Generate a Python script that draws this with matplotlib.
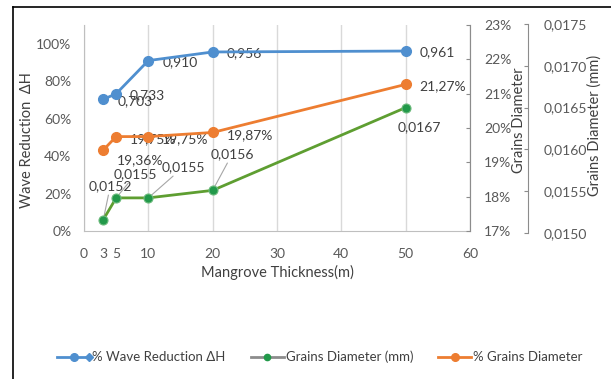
import matplotlib
matplotlib.use("Agg")
import matplotlib.pyplot as plt
from matplotlib.lines import Line2D
from matplotlib.legend_handler import HandlerLine2D
from matplotlib.ticker import FuncFormatter

plt.rcParams["font.family"] = ["Lato", "DejaVu Sans"]

# data
thickness = [3, 5, 10, 20, 50]
wave_reduction = [0.703, 0.733, 0.910, 0.956, 0.961]
grains_pct = [19.36, 19.75, 19.75, 19.87, 21.27]
grains_mm = [0.01516, 0.01542, 0.01542, 0.01551, 0.01650]
grains_mm_labels = ["0,0152", "0,0155", "0,0155", "0,0156", "0,0167"]

x_major = [0, 10, 20, 30, 40, 50, 60]
x_minor = [3, 5]

# label offsets (points) from each marker
orange_dy = [-7, -2, -2, -2, -1.5]
green_off = [(5, 24), (14, 17), (25, 22), (14, 26), (10, -14)]

BLUE, ORANGE = "#4f8fcf", "#ed7d31"
GREEN_LINE, GREEN_DOT = "#5e9e31", "#22994a"
TXT, TICK, GRID = "#404040", "#595959", "#d9d9d9"

W, H = 611, 379
fig = plt.figure(figsize=(W / 100, H / 100), dpi=100)
rect = [84 / W, (H - 231) / H, 386 / W, 206 / H]
ax = fig.add_axes(rect)
ax2 = ax.twinx()
ax3 = fig.add_axes([84 / W, (H - 233) / H, 386 / W, 209 / H])
ax3.patch.set_visible(False)

# primary axis: wave reduction
ax.set_xlim(0, 60)
ax.set_ylim(0, 1.1)
ax.set_yticks([0, 0.2, 0.4, 0.6, 0.8, 1.0])
ax.yaxis.set_major_formatter(FuncFormatter(lambda v, p: f"{v * 100:.0f}%"))
ax.set_xticks(x_major)
ax.set_xticks(x_minor, labels=[str(v) for v in x_minor], minor=True)
ax.tick_params(axis="x", which="both", length=0, pad=12, labelsize=10, colors=TICK)
ax.tick_params(axis="y", length=0, pad=9, labelsize=10, colors=TICK)
ax.xaxis.grid(True, which="major", color=GRID, lw=1)
ax.spines["top"].set_visible(False)
for s in ("left", "bottom", "right"):
    ax.spines[s].set_color("#bfbfbf")
ax.set_xlabel("Mangrove Thickness(m)", fontsize=10.5, color=TXT, labelpad=4)
ax.set_ylabel("Wave Reduction  ΔH", fontsize=10.5, color=TXT)
ax.yaxis.set_label_coords(-0.13, 0.44)

ax.plot(thickness, wave_reduction, color=BLUE, lw=2, marker="o", ms=7, zorder=5)
for x, y in zip(thickness, wave_reduction):
    ax.annotate(f"{y:.3f}".replace(".", ","), (x, y), xytext=(10, -1),
                textcoords="offset points", ha="left", va="center",
                fontsize=10, color=TXT)

# first secondary axis: % grains diameter
ax2.set_ylim(17, 23)
ax2.set_yticks(range(17, 24))
ax2.yaxis.set_major_formatter(FuncFormatter(lambda v, p: f"{v:.0f}%"))
ax2.tick_params(axis="y", direction="in", length=3, pad=10, labelsize=10,
                colors=TICK)
ax2.tick_params(axis="y", color="#8c8c8c")
for s in ("top", "left", "bottom"):
    ax2.spines[s].set_visible(False)
ax2.spines["right"].set_color("#8c8c8c")
ax2.set_ylabel("Grains Diameter", fontsize=10.5, color=TXT)
ax2.yaxis.set_label_coords(1.109, 0.54)
ax2.plot(thickness, grains_pct, color=ORANGE, lw=2, marker="o", ms=7, zorder=5)
for x, y, dy in zip(thickness, grains_pct, orange_dy):
    ax2.annotate(f"{y:.2f}%".replace(".", ","), (x, y), xytext=(10, dy),
                 textcoords="offset points", ha="left", va="center",
                 fontsize=10, color=TXT)

# second secondary axis: grains diameter (mm)
ax3.set_xlim(0, 60)
ax3.set_ylim(0.0150, 0.0175)
ax3.set_yticks([0.0150, 0.0155, 0.0160, 0.0165, 0.0170, 0.0175])
ax3.yaxis.set_major_formatter(FuncFormatter(lambda v, p: f"{v:.4f}".replace(".", ",")))
ax3.xaxis.set_visible(False)
ax3.yaxis.tick_right()
ax3.yaxis.set_label_position("right")
for s in ("top", "left", "bottom"):
    ax3.spines[s].set_visible(False)
ax3.spines["right"].set_position(("outward", 58 * 0.72))
ax3.spines["right"].set_color("#8c8c8c")
ax3.tick_params(axis="y", direction="in", length=3, pad=11, labelsize=10,
                colors=TICK)
ax3.tick_params(axis="y", color="#8c8c8c")
ax3.set_ylabel("Grains Diameter (mm)", fontsize=10.5, color=TXT)
ax3.yaxis.set_label_coords(1.305, 0.517)
ax3.plot(thickness, grains_mm, color=GREEN_LINE, lw=2, zorder=4)
ax3.plot(thickness, grains_mm, ls="none", marker="o", ms=6.5,
         color=GREEN_DOT, mec="#6dbb7d", mew=0.8, zorder=5)
for x, y, lab, (dx, dy) in zip(thickness, grains_mm, grains_mm_labels, green_off):
    arrow = None if dy < 0 else dict(arrowstyle="-", color="#a6a6a6", lw=0.8,
                                     shrinkA=0, shrinkB=3)
    ax3.annotate(lab, (x, y), xytext=(dx, dy), textcoords="offset points",
                 ha="center", va="center", fontsize=10, color=TXT,
                 arrowprops=arrow)


# legend: the Excel entry for wave reduction shows a dot and a diamond
class DotDiamond(HandlerLine2D):
    def create_artists(self, legend, orig, xd, yd, width, height, fontsize, trans):
        y = height / 2 - yd
        line = Line2D([-xd, width - xd], [y, y], color=BLUE, lw=2)
        dot = Line2D([0.5 * width - xd], [y], marker="o", ms=5.5, color=BLUE, ls="none")
        dia = Line2D([0.95 * width - xd], [y], marker="D", ms=4.5, color=BLUE, ls="none")
        for a in (line, dot, dia):
            a.set_transform(trans)
        return [line, dot, dia]


h_wave = Line2D([], [], color=BLUE, lw=2)
h_mm = Line2D([], [], color="#8c8c8c", lw=2, marker="o", ms=4.5, mfc=GREEN_DOT, mec=GREEN_DOT)
h_pct = Line2D([], [], color=ORANGE, lw=2, marker="o", ms=5.5)
fig.legend([h_wave, h_mm, h_pct],
           ["% Wave Reduction ΔH", "Grains Diameter (mm)", "% Grains Diameter"],
           loc="center", bbox_to_anchor=(320 / W, 1 - 357 / H), ncol=3,
           frameon=False, fontsize=9.5, handlelength=2.5, handletextpad=0.15,
           columnspacing=1.9, labelcolor=TXT,
           handler_map={h_wave: DotDiamond()})

# sheet border visible in the screenshot
fig.add_artist(Line2D([13 / W, 13 / W], [0, 1 - 7 / H], transform=fig.transFigure,
                      color="black", lw=1.2))
fig.add_artist(Line2D([13 / W, 1], [1 - 7 / H, 1 - 7 / H], transform=fig.transFigure,
                      color="black", lw=1.2))

fig.savefig("out.png", dpi=100)
